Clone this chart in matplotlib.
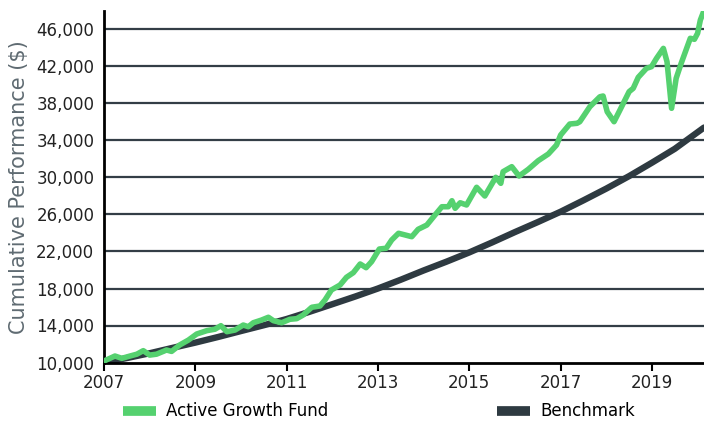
import matplotlib
matplotlib.use("Agg")
import matplotlib.pyplot as plt
from matplotlib.lines import Line2D
from matplotlib.ticker import FuncFormatter

# fund path (year, value)
fund_years = [2007.0, 2007.24, 2007.39, 2007.57, 2007.72, 2007.86, 2008.0, 2008.15,
              2008.37, 2008.48, 2008.66, 2008.85, 2009.03, 2009.25, 2009.43, 2009.56,
              2009.69, 2009.87, 2010.05, 2010.16, 2010.27, 2010.45, 2010.6, 2010.71,
              2010.89, 2011.07, 2011.22, 2011.36, 2011.55, 2011.73, 2011.84, 2011.98,
              2012.17, 2012.31, 2012.46, 2012.61, 2012.74, 2012.86, 2013.03, 2013.18,
              2013.3, 2013.45, 2013.6, 2013.74, 2013.88, 2014.07, 2014.25, 2014.4,
              2014.54, 2014.62, 2014.69, 2014.8, 2014.94, 2015.16, 2015.34, 2015.58,
              2015.69, 2015.74, 2015.93, 2016.09, 2016.29, 2016.51, 2016.73, 2016.91,
              2017.0, 2017.2, 2017.36, 2017.42, 2017.64, 2017.86, 2017.93, 2018.02,
              2018.17, 2018.3, 2018.5, 2018.59, 2018.7, 2018.88, 2018.99, 2019.1,
              2019.25, 2019.33, 2019.43, 2019.53, 2019.64, 2019.84, 2019.93, 2020.0,
              2020.06, 2020.13]
fund_values = [10160, 10700, 10450, 10700, 10900, 11280, 10800, 10900,
               11350, 11200, 11900, 12430, 13080, 13440, 13600, 13980,
               13330, 13510, 14050, 13870, 14300, 14590, 14890, 14520,
               14300, 14670, 14740, 15130, 15970, 16110, 16760, 17840,
               18380, 19210, 19710, 20650, 20250, 20900, 22270, 22350,
               23240, 23970, 23780, 23600, 24400, 24860, 25950, 26840,
               26840, 27490, 26670, 27270, 27030, 28940, 28000, 30020,
               29370, 30630, 31170, 30160, 30880, 31820, 32540, 33510,
               34590, 35780, 35860, 36030, 37650, 38730, 38810, 37110,
               36030, 37300, 39280, 39640, 40830, 41800, 41980, 42880,
               43960, 42520, 37480, 40720, 42340, 45050, 44940, 45590,
               47020, 47920]

bench_years = [2007.0, 2007.5, 2008.0, 2008.5, 2009.0, 2009.5, 2010.0, 2010.5,
               2011.0, 2011.5, 2012.0, 2012.5, 2013.0, 2013.5, 2014.0, 2014.5,
               2015.0, 2015.5, 2016.0, 2016.5, 2017.0, 2017.5, 2018.0, 2018.5,
               2019.0, 2019.5, 2020.14]
bench_values = [10000, 10480, 11000, 11580, 12150, 12760, 13400, 14030,
                14700, 15480, 16300, 17130, 18000, 18950, 19950, 20900,
                21900, 22980, 24100, 25180, 26300, 27530, 28800, 30150,
                31600, 33100, 35400]

x_ticks = [2007, 2009, 2011, 2013, 2015, 2017, 2019]
y_ticks = [10000, 14000, 18000, 22000, 26000, 30000, 34000, 38000, 42000, 46000]

green = "#55d16f"
dark = "#2e3a41"

plt.rcParams['font.family'] = ['DejaVu Sans']

fig = plt.figure(figsize=(7.04, 4.21), dpi=100)
ax = fig.add_axes([104 / 704, 1 - 362.5 / 421, 1 - 104 / 704, (362.5 - 11) / 421])

for v in y_ticks[1:]:
    ax.axhline(v, color="#333e46", lw=1.6, zorder=1)

ax.plot(bench_years, bench_values, color=dark, lw=4.6, solid_capstyle="round", zorder=2)
ax.plot(fund_years, fund_values, color=green, lw=4.0, solid_joinstyle="round", zorder=3)

ax.set_xlim(2007, 2020.14)
ax.set_ylim(10000, 48000)
ax.set_xticks(x_ticks)
ax.set_xticklabels([str(y) for y in x_ticks])
ax.set_yticks(y_ticks)
ax.yaxis.set_major_formatter(FuncFormatter(lambda v, p: "{:,.0f}".format(v)))

for s in ["top", "right"]:
    ax.spines[s].set_visible(False)
for s in ["left", "bottom"]:
    ax.spines[s].set_linewidth(2)
    ax.spines[s].set_color("black")

ax.tick_params(axis="x", length=6, width=1.5, direction="out", labelsize=12, pad=2, colors="black", labelcolor="#222222")
ax.tick_params(axis="y", length=0, labelsize=12, pad=7, labelcolor="#222222")
ax.set_ylabel("Cumulative Performance ($)", fontsize=15, color="#5f6b72", labelpad=5)

handles = [Line2D([], [], color=green, lw=7, solid_capstyle="butt"),
           Line2D([], [], color=dark, lw=7, solid_capstyle="butt")]
labels = ["Active Growth Fund", "Benchmark"]
for h, l, x in zip(handles, labels, [123, 497]):
    fig.legend([h], [l], loc="center left", bbox_to_anchor=(x / 704, (421 - 411.5) / 421),
               frameon=False, fontsize=12, handlelength=2.0, handletextpad=0.6,
               borderpad=0, borderaxespad=0)

fig.savefig("out.png", dpi=100)
